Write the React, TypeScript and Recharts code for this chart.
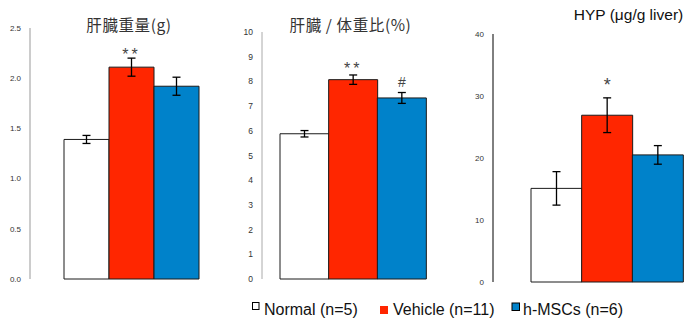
import React from 'react';
import { BarChart, Bar, XAxis, YAxis, Cell, ErrorBar, LabelList } from 'recharts';

const categories = ['Normal (n=5)', 'Vehicle (n=11)', 'h-MSCs (n=6)'];
const colors = ['#FFFFFF', '#FF2600', '#0082CA'];

const liverWeight = [1.39, 2.11, 1.92];
const liverWeightErr = [0.04, 0.09, 0.09];
const liverWeightSig = ['', '**', ''];
const liverWeightTicks = [0, 0.5, 1.0, 1.5, 2.0, 2.5];

const liverRatio = [5.88, 8.07, 7.33];
const liverRatioErr = [0.13, 0.19, 0.22];
const liverRatioSig = ['', '**', '#'];
const liverRatioTicks = [0, 1, 2, 3, 4, 5, 6, 7, 8, 9, 10];

const hyp = [15.1, 26.9, 20.5];
const hypErr = [2.7, 2.8, 1.5];
const hypSig = ['', '*', ''];
const hypTicks = [0, 10, 20, 30, 40];

const titles = ['肝臓重量(g)', '肝臓 / 体重比(%)', 'HYP (μg/g liver)'];

const build = (vals: number[], errs: number[], sigs: string[]) =>
  categories.map((name, i) => ({ name, value: vals[i], err: errs[i], sig: sigs[i] }));

const makeSigLabel = (offsets: Record<string, number>, fontSize: number) => (props: any) => {
  const { x, y, width, value } = props;
  if (!value) return null;
  const off = offsets[value] ?? 8;
  return (
    <text
      x={Number(x) + Number(width) / 2}
      y={Number(y) - off}
      textAnchor="middle"
      fill="#444"
      fontSize={value === '#' ? 14 : fontSize}
      letterSpacing={value === '**' ? 3 : 0}
      fontFamily="Liberation Sans, Arial, sans-serif"
    >
      {value}
    </text>
  );
};

type PanelProps = {
  left: number;
  width: number;
  margin: { top: number; right: number; bottom: number; left: number };
  data: any[];
  domain: [number, number];
  ticks: number[];
  fmt?: (v: number) => string;
  padding: { left: number; right: number };
  yAxisColor: string;
  xAxisColor: string;
  xAxisWidth: number;
  tickFont: number;
  sigLabel: (p: any) => any;
};

const Panel = (p: PanelProps) => (
  <div style={{ position: 'absolute', left: p.left, top: 0 }}>
    <BarChart width={p.width} height={300} data={p.data} margin={p.margin} barCategoryGap={0}>
      <XAxis
        dataKey="name"
        height={0}
        tick={false}
        tickLine={false}
        axisLine={{ stroke: p.xAxisColor, strokeWidth: p.xAxisWidth }}
        padding={p.padding}
      />
      <YAxis
        width={30}
        domain={p.domain}
        ticks={p.ticks}
        interval={0}
        tickFormatter={p.fmt}
        tickLine={false}
        tickSize={6}
        tickMargin={3}
        axisLine={{ stroke: p.yAxisColor }}
        tick={{ fontSize: p.tickFont, fill: '#333', fontFamily: 'Liberation Sans, Arial, sans-serif' }}
      />
      <Bar dataKey="value" isAnimationActive={false} stroke="#1a1a1a" strokeWidth={1}>
        {p.data.map((_, i) => (
          <Cell key={i} fill={colors[i]} />
        ))}
        <ErrorBar dataKey="err" width={4} stroke="#000" strokeWidth={1.3} />
        <LabelList dataKey="sig" content={p.sigLabel} />
      </Bar>
    </BarChart>
  </div>
);

export default function App() {
  return (
    <div style={{ position: 'absolute', left: 0, top: 0, width: 687, height: 320, background: '#fff', overflow: 'hidden' }}>
      <Panel
        left={0}
        width={232}
        margin={{ top: 28, right: 2, bottom: 21, left: 0 }}
        data={build(liverWeight, liverWeightErr, liverWeightSig)}
        domain={[0, 2.5]}
        ticks={liverWeightTicks}
        fmt={(v: number) => v.toFixed(1)}
        padding={{ left: 34, right: 31 }}
        yAxisColor="#999"
        xAxisColor="#999"
        xAxisWidth={1}
        tickFont={8}
        sigLabel={makeSigLabel({ '**': 7 }, 16)}
      />
      <Panel
        left={232}
        width={213}
        margin={{ top: 32, right: 2, bottom: 21, left: 0 }}
        data={build(liverRatio, liverRatioErr, liverRatioSig)}
        domain={[0, 10]}
        ticks={liverRatioTicks}
        padding={{ left: 18, right: 17 }}
        yAxisColor="#aaa"
        xAxisColor="#ccc"
        xAxisWidth={2}
        tickFont={8.5}
        sigLabel={makeSigLabel({ '**': 5.5, '#': 10.5 }, 16)}
      />
      <Panel
        left={463}
        width={224}
        margin={{ top: 34, right: 3, bottom: 18, left: 0 }}
        data={build(hyp, hypErr, hypSig)}
        domain={[0, 40]}
        ticks={hypTicks}
        padding={{ left: 38, right: 1 }}
        yAxisColor="#000"
        xAxisColor="#777"
        xAxisWidth={1.5}
        tickFont={8}
        sigLabel={makeSigLabel({ '*': 24 }, 18)}
      />
      <svg width={687} height={320} style={{ position: 'absolute', left: 0, top: 0, pointerEvents: 'none' }}>
        <text x={129} y={31} textAnchor="middle" fontSize={15.5} letterSpacing={0.6} fill="#333" fontFamily="Noto Sans CJK JP, sans-serif">
          {titles[0]}
        </text>
        <text x={350.5} y={31} textAnchor="middle" fontSize={15.5} letterSpacing={0.6} fill="#333" fontFamily="Noto Sans CJK JP, sans-serif">
          {titles[1]}
        </text>
        <text x={628.5} y={20} textAnchor="middle" fontSize={15.5} fill="#111" fontFamily="Liberation Sans, Arial, sans-serif">
          {titles[2]}
        </text>
        <rect x={252.5} y={302.5} width={6.5} height={7} fill={colors[0]} stroke="#000" strokeWidth={1} />
        <text x={264} y={315} fontSize={16} fill="#111" fontFamily="Liberation Sans, Arial, sans-serif">
          {categories[0]}
        </text>
        <rect x={380} y={306} width={8} height={8} fill={colors[1]} />
        <text x={393} y={315} fontSize={16} fill="#111" fontFamily="Liberation Sans, Arial, sans-serif">
          {categories[1]}
        </text>
        <rect x={512} y={303} width={7.5} height={7.5} fill={colors[2]} stroke="#000" strokeWidth={1} />
        <text x={523} y={315} fontSize={16} fill="#111" fontFamily="Liberation Sans, Arial, sans-serif">
          {categories[2]}
        </text>
      </svg>
    </div>
  );
}
